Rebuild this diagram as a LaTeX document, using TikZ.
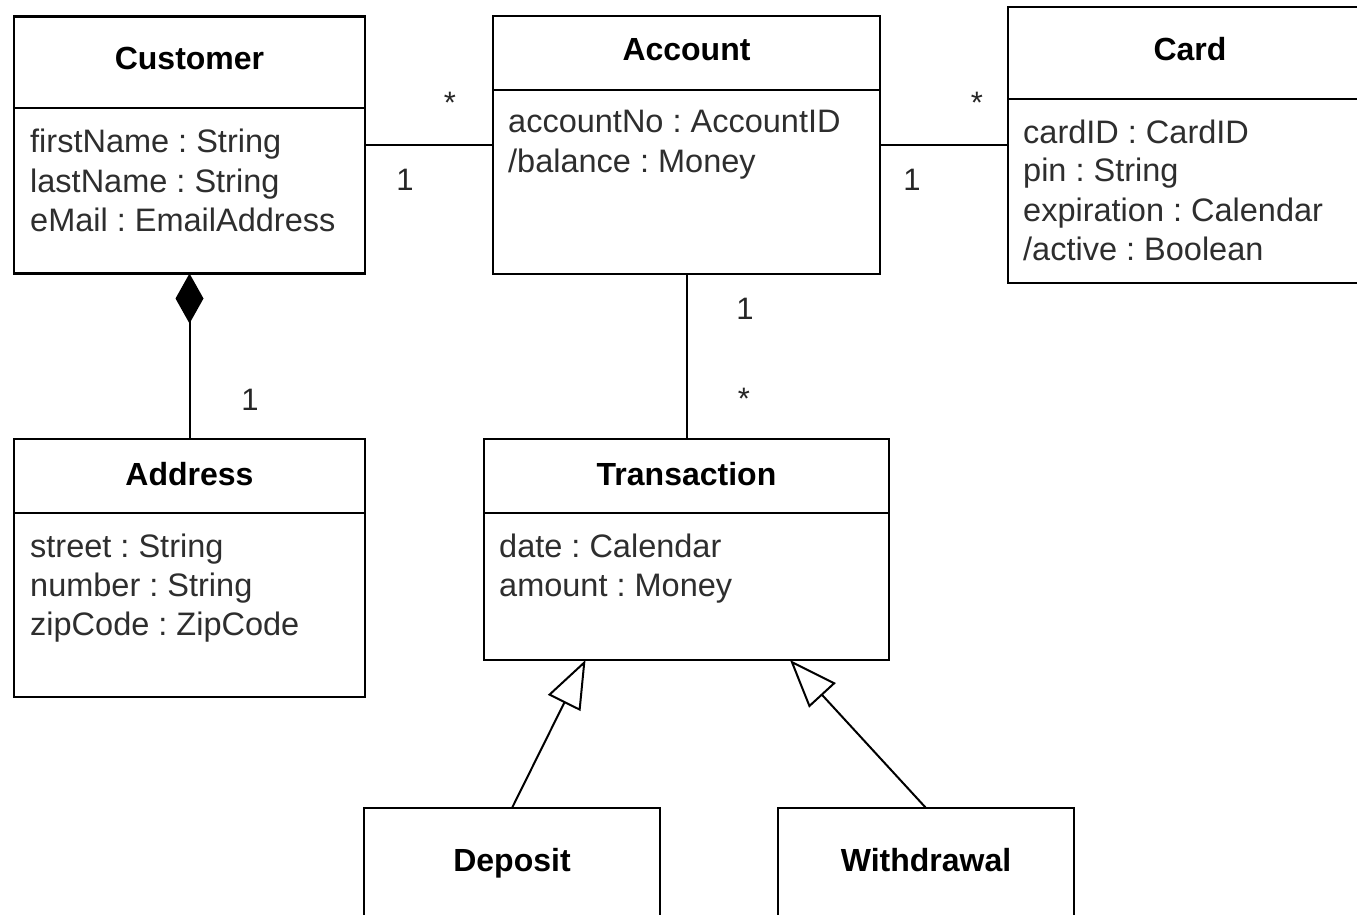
\documentclass[tikz,border=0pt]{standalone}
\usepackage{fontspec}
\setmainfont{Liberation Sans}
\usetikzlibrary{arrows.meta}
\frenchspacing
\begin{document}
\begin{tikzpicture}[x=1pt,y=-1pt,
  classbox/.style={draw, line width=2.8pt, rectangle, inner sep=0pt, outer sep=0pt},
  divider/.style={line width=2.8pt},
  classname/.style={font=\fontsize{32}{36}\selectfont\bfseries, anchor=base, inner sep=0pt},
  attr/.style={font=\fontsize{32.5}{39}\selectfont, anchor=base west, inner sep=0pt, text=black!82},
  mult/.style={font=\fontsize{31}{36}\selectfont, anchor=base, inner sep=0pt, text=black!85},
  link/.style={line width=2pt},
]
\clip (0,0) rectangle (1357,915);
\fill[white] (0,0) rectangle (1357,915);

% ---- Customer
\node[classbox, minimum width=351pt, minimum height=257pt] (customer) at (189.5,145) {};
\draw[divider] (customer.west |- 0,108) -- (customer.east |- 0,108);
\node[classname] (customer-t) at (189.5,70) {Customer};
\node[attr] (customer-a1) at (30,153) {firstName : String};
\node[attr] (customer-a2) at (30,192) {lastName : String};
\node[attr] (customer-a3) at (30,231) {eMail : EmailAddress};

% ---- Account
\node[classbox, minimum width=387pt, minimum height=258pt] (account) at (686.5,145) {};
\draw[divider] (account.west |- 0,90) -- (account.east |- 0,90);
\node[classname] (account-t) at (686.5,61) {Account};
\node[attr] (account-a1) at (508,133) {accountNo : AccountID};
\node[attr] (account-a2) at (508,172.5) {/balance : Money};

% ---- Card
\node[classbox, minimum width=380pt, minimum height=276pt] (card) at (1198,145) {};
\draw[divider] (card.west |- 0,99) -- (card.east |- 0,99);
\node[classname] (card-t) at (1190,61) {Card};
\node[attr] (card-a1) at (1023,143) {cardID : CardID};
\node[attr] (card-a2) at (1023,182) {pin : String};
\node[attr] (card-a3) at (1023,221) {expiration : Calendar};
\node[attr] (card-a4) at (1023,260) {/active : Boolean};

% ---- Address
\node[classbox, minimum width=351pt, minimum height=258pt] (address) at (189.5,568) {};
\draw[divider] (address.west |- 0,513) -- (address.east |- 0,513);
\node[classname] (address-t) at (189.5,485) {Address};
\node[attr] (address-a1) at (30,557) {street : String};
\node[attr] (address-a2) at (30,596) {number : String};
\node[attr] (address-a3) at (30,635) {zipCode : ZipCode};

% ---- Transaction
\node[classbox, minimum width=405pt, minimum height=221pt] (transaction) at (686.5,549.5) {};
\draw[divider] (transaction.west |- 0,513) -- (transaction.east |- 0,513);
\node[classname] (transaction-t) at (686.5,485) {Transaction};
\node[attr] (transaction-a1) at (499,557) {date : Calendar};
\node[attr] (transaction-a2) at (499,596) {amount : Money};

% ---- Deposit / Withdrawal
\node[classbox, minimum width=296pt, minimum height=132pt] (deposit) at (512,874) {};
\node[classname] (deposit-t) at (512,871) {Deposit};
\node[classbox, minimum width=296pt, minimum height=132pt] (withdrawal) at (926,874) {};
\node[classname] (withdrawal-t) at (926,871) {Withdrawal};

% ---- Associations
\draw[link] (customer.east) -- (account.west);
\node[mult] (m-ca-star) at (450,114) {*};
\node[mult] (m-ca-one) at (405,190) {1};

\draw[link] (account.east) -- (card.west);
\node[mult] (m-ac-star) at (977,114) {*};
\node[mult] (m-ac-one) at (912,190) {1};

\draw[link] (account.south) -- (transaction.north);
\node[mult] (m-at-one) at (745,319) {1};
\node[mult] (m-at-star) at (744,409) {*};

% ---- Composition
\draw[link, {Diamond[length=50pt,width=28pt]}-] (customer.south) -- (address.north);
\node[mult] (m-cad-one) at (250,410) {1};

% ---- Generalizations
\draw[link, -{Triangle[open, length=48pt, width=36pt]}] (deposit.north) -- ([xshift=-101pt]transaction.south);
\draw[link, -{Triangle[open, length=48pt, width=36pt]}] (withdrawal.north) -- ([xshift=103.5pt]transaction.south);
\end{tikzpicture}
\end{document}
